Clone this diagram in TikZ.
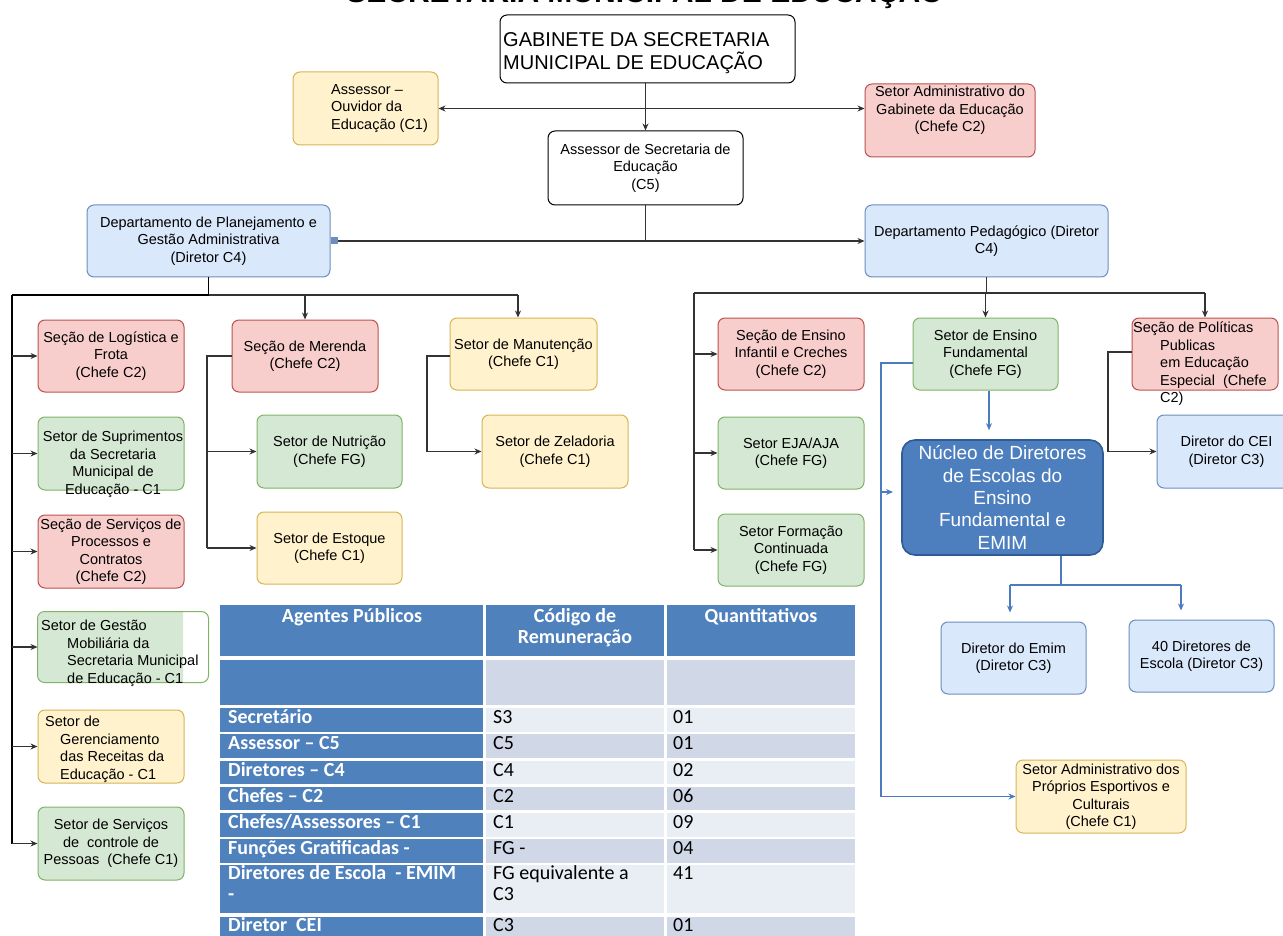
\documentclass[tikz,border=0pt]{standalone}
\usepackage{fontspec}
\setmainfont{Liberation Sans}
\newfontfamily\tabfont{Carlito}
\usetikzlibrary{arrows.meta}

\definecolor{yfill}{HTML}{FFF2CC}\definecolor{ydraw}{HTML}{D6B656}
\definecolor{rfill}{HTML}{F8CECC}\definecolor{rdraw}{HTML}{B85450}
\definecolor{gfill}{HTML}{D5E8D4}\definecolor{gdraw}{HTML}{82B366}
\definecolor{bfill}{HTML}{DAE8FC}\definecolor{bdraw}{HTML}{6C8EBF}
\definecolor{nfill}{HTML}{4D7EBE}\definecolor{ndraw}{HTML}{2F5C96}
\definecolor{lnblue}{HTML}{4A7CBF}
\definecolor{thead}{HTML}{4F81BD}
\definecolor{tdark}{HTML}{D0D8E8}
\definecolor{tlight}{HTML}{E9EDF4}

% box from corner (x1,y1) to corner (x2,y2), name, style, text
\newcommand\orgbox[7]{\node[#2, minimum width={(#5-#3)*1pt}, minimum height={(#6-#4)*1pt}] (#1) at ({(#3+#5)/2},{(#4+#6)/2}) {#7};}

\begin{document}
\begin{tikzpicture}[x=1pt,y=-1pt,
  ob/.style={rounded corners=7pt, line width=1pt, inner sep=1pt, align=center,
    font=\fontsize{14.5}{17.5}\selectfont, text=black},
  ybox/.style={ob, draw=ydraw, fill=yfill},
  rbox/.style={ob, draw=rdraw, fill=rfill},
  gbox/.style={ob, draw=gdraw, fill=gfill},
  bbox/.style={ob, draw=bdraw, fill=bfill},
  wbox/.style={ob, draw=black, fill=white},
  nbox/.style={ob, draw=ndraw, fill=nfill, line width=1.6pt, rounded corners=13pt,
    text=white, font=\fontsize{19}{22.3}\selectfont},
  tx/.style={inner sep=0pt, font=\fontsize{14.5}{17.5}\selectfont},
  conn/.style={line width=1.2pt, draw=black!80},
  mainconn/.style={line width=1.8pt, draw=black},
  bconn/.style={line width=1.1pt, draw=lnblue},
  tip/.style={-{Stealth[length=7pt,width=6pt]}},
  btip/.style={-{Stealth[length=7pt,width=6pt]}},
  twh/.style={inner sep=0pt, text=white, font={\tabfont\fontsize{20}{21}\selectfont\bfseries}},
  tbk/.style={inner sep=0pt, text=black, font={\tabfont\fontsize{20}{21}\selectfont}},
]
\useasboundingbox (0,0) rectangle (1283,936);
\clip (0,0) rectangle (1283,936);
\fill[white] (0,0) rectangle (1283,936);

% heading, cut by the top edge
\node[anchor=base, inner sep=0pt, font=\bfseries\fontsize{30}{30}\selectfont] (title) at (645,3) {SECRETARIA MUNICIPAL DE EDUCAÇÃO};

% top level
\orgbox{gab}{wbox}{500}{15}{795}{83}{}
\node[anchor=west, align=left, inner sep=0pt, font=\fontsize{20}{23}\selectfont] (gabt) at (503,53) {GABINETE DA SECRETARIA\\MUNICIPAL DE EDUCAÇÃO};
\orgbox{ouv}{ybox}{293}{72}{438}{145}{}
\node[tx, anchor=west, align=left] (ouvt) at (331,108.5) {Assessor –\\Ouvidor da\\Educação (C1)};
\orgbox{sadm}{rbox}{865}{84}{1035}{157}{}
\node[tx, anchor=north, align=center] (sadmt) at (950,86) {Setor Administrativo do\\Gabinete da Educação\\(Chefe C2)};
\orgbox{ass}{wbox}{548}{131}{743}{205}{Assessor de Secretaria de\\Educação\\(C5)}

% departments
\orgbox{dplan}{bbox}{87}{205}{330}{277}{Departamento de Planejamento e\\Gestão Administrativa\\(Diretor C4)}
\orgbox{dped}{bbox}{865}{205}{1108}{277}{Departamento Pedagógico (Diretor\\C4)}
\node[fill=bdraw, minimum size=7pt, inner sep=0pt, anchor=west] (sq) at (dplan.east) {};

% planning department, left column
\orgbox{log}{rbox}{38}{320}{184}{392}{Seção de Logística e\\Frota\\(Chefe C2)}
\orgbox{sup}{gbox}{38}{417}{184}{490}{}
\node[tx, anchor=north, align=center] (supt) at (113,431) {Setor de Suprimentos\\da Secretaria\\Municipal de\\Educação - C1};
\orgbox{serv}{rbox}{38}{515}{184}{588}{Seção de Serviços de\\Processos e\\Contratos\\(Chefe C2)}
\fill[gfill] (183,612) [rounded corners=7pt] -- (38,612) -- (38,682) [sharp corners] -- (183,682) -- cycle;
\orgbox{gest}{ob}{38}{612}{208}{682}{}
\draw[gdraw, line width=1pt, rounded corners=7pt] (gest.south west) rectangle (gest.north east);
\node[tx, anchor=north west, align=left] (gestt) at (41,620) {Setor de Gestão\\\hspace*{26pt}Mobiliária da\\\hspace*{26pt}Secretaria Municipal\\\hspace*{26pt}de Educação - C1};
\orgbox{ger}{ybox}{38}{710}{184}{783}{}
\node[tx, anchor=north west, align=left] (gert) at (45,716) {Setor de\\\hspace*{15pt}Gerenciamento\\\hspace*{15pt}das Receitas da\\\hspace*{15pt}Educação - C1};
\orgbox{pess}{gbox}{38}{807}{184}{880}{Setor de Serviços\\de\ \ controle de\\Pessoas\ \ (Chefe C1)}

% planning department, middle columns
\orgbox{mer}{rbox}{232}{320}{378}{392}{Seção de Merenda\\(Chefe C2)}
\orgbox{nut}{gbox}{257}{415}{402}{488}{Setor de Nutrição\\(Chefe FG)}
\orgbox{est}{ybox}{257}{512}{402}{584}{Setor de Estoque\\(Chefe C1)}
\orgbox{manu}{ybox}{450}{318}{597}{390}{Setor de Manutenção\\(Chefe C1)}
\orgbox{zel}{ybox}{482}{415}{628}{488}{Setor de Zeladoria\\(Chefe C1)}

% pedagogical department
\orgbox{inf}{rbox}{718}{318}{864}{390}{Seção de Ensino\\Infantil e Creches\\(Chefe C2)}
\orgbox{eja}{gbox}{718}{417}{864}{489}{Setor EJA/AJA\\(Chefe FG)}
\orgbox{form}{gbox}{718}{514}{864}{586}{Setor Formação\\Continuada\\(Chefe FG)}
\orgbox{ef}{gbox}{913}{318}{1058}{390}{Setor de Ensino\\Fundamental\\(Chefe FG)}
\orgbox{pol}{rbox}{1132}{318}{1278}{390}{}
\node[tx, anchor=north west, align=left] (polt) at (1133,322) {Seção de Políticas\\\hspace*{27pt}Publicas\\\hspace*{27pt}em Educação\\\hspace*{27pt}Especial\ \ (Chefe\\\hspace*{27pt}C2)};
\orgbox{cei}{bbox}{1157}{415}{1296}{488}{Diretor do CEI\\(Diretor C3)}
\orgbox{nuc}{nbox}{902}{440}{1103}{555}{Núcleo de Diretores\\de Escolas do\\Ensino\\Fundamental e\\EMIM}
\orgbox{emim}{bbox}{941}{622}{1086}{694}{Diretor do Emim\\(Diretor C3)}
\orgbox{d40}{bbox}{1129}{620}{1274}{692}{40 Diretores de\\Escola (Diretor C3)}
\orgbox{prop}{ybox}{1016}{760}{1186}{833}{Setor Administrativo dos\\Próprios Esportivos e\\Culturais\\(Chefe C1)}

% connectors, top
\draw[conn,tip] (ass.north |- gab.south) -- (ass.north);
\draw[conn,{Stealth[length=7pt,width=6pt]}-{Stealth[length=7pt,width=6pt]}] (ouv.east) -- (sadm.west |- ouv.east);
\draw[conn] (ass.south) -- (ass.south |- sq.east);
\draw[conn,tip] (sq.east) -- (dped.west |- sq.east);

% connectors, planning department
\coordinate (lb) at (12,295);
\coordinate (mb) at (518,295);
\draw[mainconn] (dplan.south) -- (dplan.south |- lb);
\draw[mainconn] (lb) -- (dplan.south |- lb);
\draw[conn] (dplan.south |- lb) -- (mb);
\draw[conn,tip] (mer.north |- lb) -- (mer.north);
\draw[conn,tip] (mb) -- (mb |- manu.north);
\draw[mainconn] (lb) -- (lb |- pess.west);
\foreach \n in {log,sup,serv,gest,ger,pess} \draw[conn,tip] (lb |- \n.west) -- (\n.west);
\coordinate (mx) at (207,356);
\draw[conn] (mer.west |- mx) -- (mx) -- (mx |- est.west);
\draw[conn,tip] (mx |- nut.west) -- (nut.west);
\draw[conn,tip] (mx |- est.west) -- (est.west);
\coordinate (zx) at (427,356);
\draw[conn] (manu.west |- zx) -- (zx) -- (zx |- zel.west);
\draw[conn,tip] (zx |- zel.west) -- (zel.west);

% connectors, pedagogical department
\coordinate (rb) at (694,293);
\coordinate (rr) at (1205,293);
\draw[conn] (dped.south) -- (dped.south |- rb);
\draw[conn] (rb) -- (rr);
\draw[conn,tip] (ef.north |- rb) -- (ef.north);
\draw[conn,tip] (rr) -- (rr |- pol.north);
\draw[conn] (rb) -- (rb |- form.west);
\foreach \n in {inf,eja,form} \draw[conn,tip] (rb |- \n.west) -- (\n.west);
\coordinate (px) at (1108,352);
\draw[conn] (pol.west |- px) -- (px) -- (px |- cei.west);
\draw[conn,tip] (px |- cei.west) -- (cei.west);

% blue connectors
\coordinate (fx) at (989,400);
\draw[bconn,btip] (fx |- ef.south) -- ([yshift=9pt]fx |- nuc.north);
\coordinate (bx) at (881,363);
\draw[bconn] (ef.west |- bx) -- (bx) -- (bx |- prop.west);
\draw[bconn,btip] (bx |- prop.west) -- (prop.west);
\coordinate (bk) at (881,492);
\coordinate (bke) at (893,492);
\draw[bconn,btip] (bk) -- (bke);
\coordinate (nd) at (1061,585);
\coordinate (ndl) at (1010,585);
\coordinate (ndr) at (1181,585);
\draw[bconn] (nd |- nuc.south) -- (nd);
\draw[bconn] (ndl) -- (ndr);
\draw[bconn,btip] (ndl) -- ([yshift=9pt]ndl |- emim.north);
\draw[bconn,btip] (ndr) -- ([yshift=9pt]ndr |- d40.north);

% table of posts
\fill[thead] (220,605) rectangle (483,656);
\fill[thead] (486,605) rectangle (664,656);
\fill[thead] (667,605) rectangle (855,656);
\foreach \t/\b/\c in {660/705/tdark, 708/732/tlight, 734/758/tdark, 761/784/tlight,
    787/810/tdark, 813/837/tlight, 839/863/tdark, 865/913/tlight, 917/950/tdark} {
  \fill[thead] (220,\t) rectangle (483,\b);
  \fill[\c] (486,\t) rectangle (664,\b);
  \fill[\c] (667,\t) rectangle (855,\b);
}
\node[twh, anchor=base] (h1) at (352,622) {Agentes Públicos};
\node[twh, anchor=north, align=center] (h2) at (575,608) {Código de\\Remuneração};
\node[twh, anchor=base] (h3) at (761,622) {Quantitativos};

\node[twh, anchor=base west] (a1) at (228,723) {Secretário};
\node[tbk, anchor=base west] (b1) at (493,723) {S3};
\node[tbk, anchor=base west] (c1) at (673,723) {01};
\node[twh, anchor=base west] (a2) at (228,749) {Assessor – C5};
\node[tbk, anchor=base west] (b2) at (493,749) {C5};
\node[tbk, anchor=base west] (c2) at (673,749) {01};
\node[twh, anchor=base west] (a3) at (228,776) {Diretores – C4};
\node[tbk, anchor=base west] (b3) at (493,776) {C4};
\node[tbk, anchor=base west] (c3) at (673,776) {02};
\node[twh, anchor=base west] (a4) at (228,802) {Chefes – C2};
\node[tbk, anchor=base west] (b4) at (493,802) {C2};
\node[tbk, anchor=base west] (c4) at (673,802) {06};
\node[twh, anchor=base west] (a5) at (228,828) {Chefes/Assessores – C1};
\node[tbk, anchor=base west] (b5) at (493,828) {C1};
\node[tbk, anchor=base west] (c5) at (673,828) {09};
\node[twh, anchor=base west] (a6) at (228,854) {Funções Gratificadas -};
\node[tbk, anchor=base west] (b6) at (493,854) {FG -};
\node[tbk, anchor=base west] (c6) at (673,854) {04};
\node[twh, anchor=north west, align=left] (a7) at (228,865) {Diretores de Escola\ \ - EMIM\\-};
\node[tbk, anchor=north west, align=left] (b7) at (493,865) {FG equivalente a\\C3};
\node[tbk, anchor=base west] (c7) at (673,879) {41};
\node[twh, anchor=base west] (a8) at (228,931) {Diretor\ \ CEI};
\node[tbk, anchor=base west] (b8) at (493,931) {C3};
\node[tbk, anchor=base west] (c8) at (673,931) {01};
\end{tikzpicture}
\end{document}
